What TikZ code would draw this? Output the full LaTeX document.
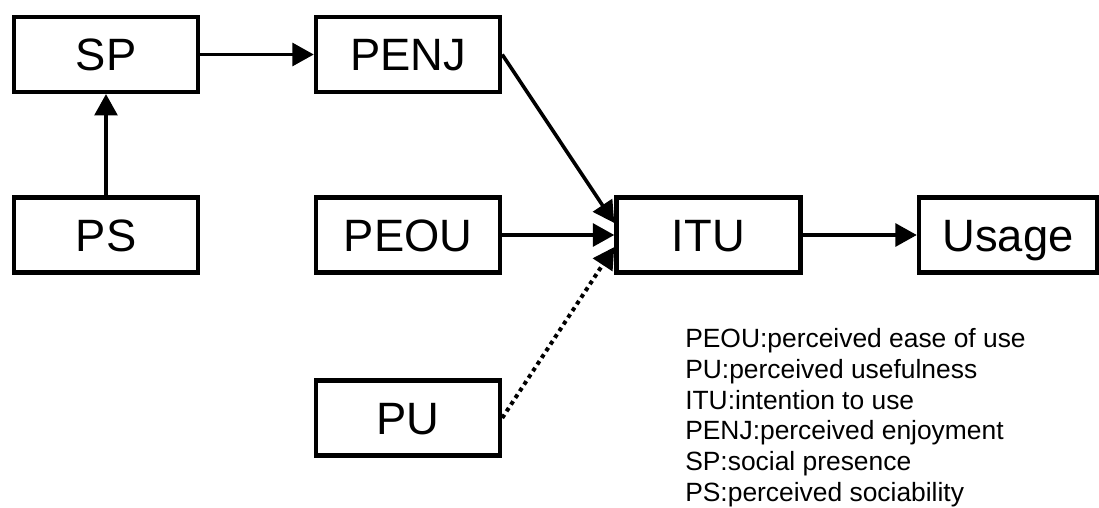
\documentclass[tikz,border=0pt]{standalone}
\usepackage{fontspec}
\setmainfont{Liberation Sans}
\usetikzlibrary{arrows.meta,positioning}
\tikzset{
  box/.style={draw=black,line width=3.3pt,minimum width=138pt,minimum height=56pt,
              inner sep=0pt,text height=24.3pt,text depth=0pt,
              font=\fontsize{34}{40}\selectfont},
  ar/.style ={-{Triangle[length=16pt,width=17pt]},line width=2.7pt},
  dotar/.style={-{Triangle[length=16pt,width=17pt]},line width=3pt,
                dash pattern=on 3pt off 3pt},
  lgd/.style={font=\fontsize{19.8}{23}\selectfont,align=left,inner sep=0pt,anchor=north west},
}
\begin{document}
\begin{tikzpicture}[x=0.75pt,y=-0.75pt]
  \useasboundingbox (0,0) rectangle (1099,507);
  \node[box] (SP)   at (106,54.5) {SP};
  \node[box] (PENJ) at (408,54.5) {PENJ};
  \node[box] (PS)   at (106,235) {PS};
  \node[box] (PEOU) at (408,235) {PEOU};
  \node[box] (PU)   at (408,418) {PU};
  \node[box] (ITU)  at (708.5,235) {ITU};
  \node[box,minimum width=133.5pt] (Usage) at (1008,235) {Usage};
  % connectors
  \draw[ar] (PS) -- (SP);
  \draw[ar] (SP) -- (PENJ);
  \draw[ar] (PENJ.east) -- ([yshift=9pt]ITU.west);
  \draw[ar] (PEOU) -- (ITU);
  \draw[dotar] (PU.east) -- ([yshift=-9pt]ITU.west);
  \draw[ar] (ITU) -- (Usage);
  % legend
  \node[lgd] (key) at (685,328.5) {PEOU:perceived ease of use\\
    PU:perceived usefulness\\ITU:intention to use\\
    PENJ:perceived enjoyment\\SP:social presence\\PS:perceived sociability};
\end{tikzpicture}
\end{document}
